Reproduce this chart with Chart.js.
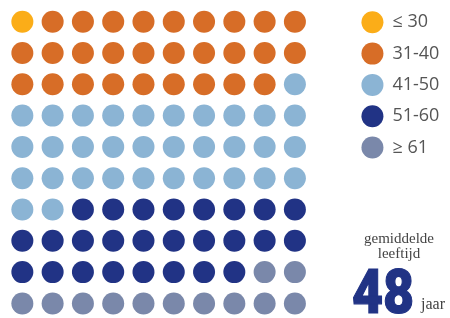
<!DOCTYPE html>
<html lang="nl">
<head>
    <meta charset="UTF-8">
    <title>Gemiddelde leeftijd</title>
    <style>
        html, body { margin: 0; padding: 0; background: #fff; }
        .chart { position: relative; width: 450px; height: 318px; }
    </style>
</head>
<body>
    <div class="chart">
        <canvas id="ageChart"></canvas>
    </div>

    <script src="https://cdn.jsdelivr.net/npm/chart.js"></script>
    <script>
        // leeftijdsgroepen, aantal stippen per groep (van 100)
        const categories = ['≤ 30', '31-40', '41-50', '51-60', '≥ 61'];
        const counts = [1, 28, 33, 26, 12];
        const colors = ['#FBAD18', '#D76D27', '#8BB4D4', '#213385', '#7A88AA'];
        const averageAge = '48';
        const gridCols = 10;

        // fill the 10x10 waffle row by row
        let idx = 0;
        const datasets = categories.map((label, i) => {
            const points = [];
            for (let n = 0; n < counts[i]; n++) {
                points.push({ x: idx % gridCols, y: Math.floor(idx / gridCols) });
                idx++;
            }
            return {
                label: label,
                data: points,
                backgroundColor: colors[i],
                borderWidth: 0,
                pointRadius: 11,
                pointHoverRadius: 11,
                pointStyle: 'circle',
                clip: false
            };
        });

        const averageText = {
            id: 'averageText',
            afterDraw(chart) {
                const ctx = chart.ctx;
                ctx.save();
                ctx.fillStyle = '#444';
                ctx.font = '15px "Liberation Serif", serif';
                ctx.textAlign = 'center';
                ctx.textBaseline = 'alphabetic';
                ctx.fillText('gemiddelde', 399, 243);
                ctx.fillText('leeftijd', 399, 258);

                ctx.textAlign = 'left';
                ctx.font = '16px "Liberation Serif", serif';
                ctx.fillText('jaar', 421, 309);

                // big number, squeezed a bit to match the narrow heavy face
                ctx.fillStyle = colors[3];
                ctx.strokeStyle = colors[3];
                ctx.lineWidth = 1.2;
                ctx.font = '900 61px Roboto, sans-serif';
                ctx.translate(352, 313);
                ctx.scale(0.88, 1);
                ctx.fillText(averageAge, 0, 0);
                ctx.strokeText(averageAge, 0, 0);
                ctx.restore();
            }
        };

        new Chart(document.getElementById('ageChart'), {
            type: 'scatter',
            data: { datasets: datasets },
            options: {
                responsive: true,
                maintainAspectRatio: false,
                animation: false,
                events: [],
                layout: { autoPadding: false, padding: { right: 0.6 } },
                scales: {
                    x: { display: false, min: -0.738, max: 10.758 },
                    y: { display: false, reverse: true, min: -0.693, max: 9.466 }
                },
                plugins: {
                    tooltip: { enabled: false },
                    legend: {
                        position: 'right',
                        align: 'start',
                        labels: {
                            usePointStyle: true,
                            pointStyleWidth: 22,
                            boxHeight: 15.56,
                            padding: 13.3,
                            color: '#555',
                            font: { family: '"Open Sans", sans-serif', size: 18 }
                        }
                    }
                }
            },
            plugins: [averageText]
        });
    </script>
</body>
</html>
